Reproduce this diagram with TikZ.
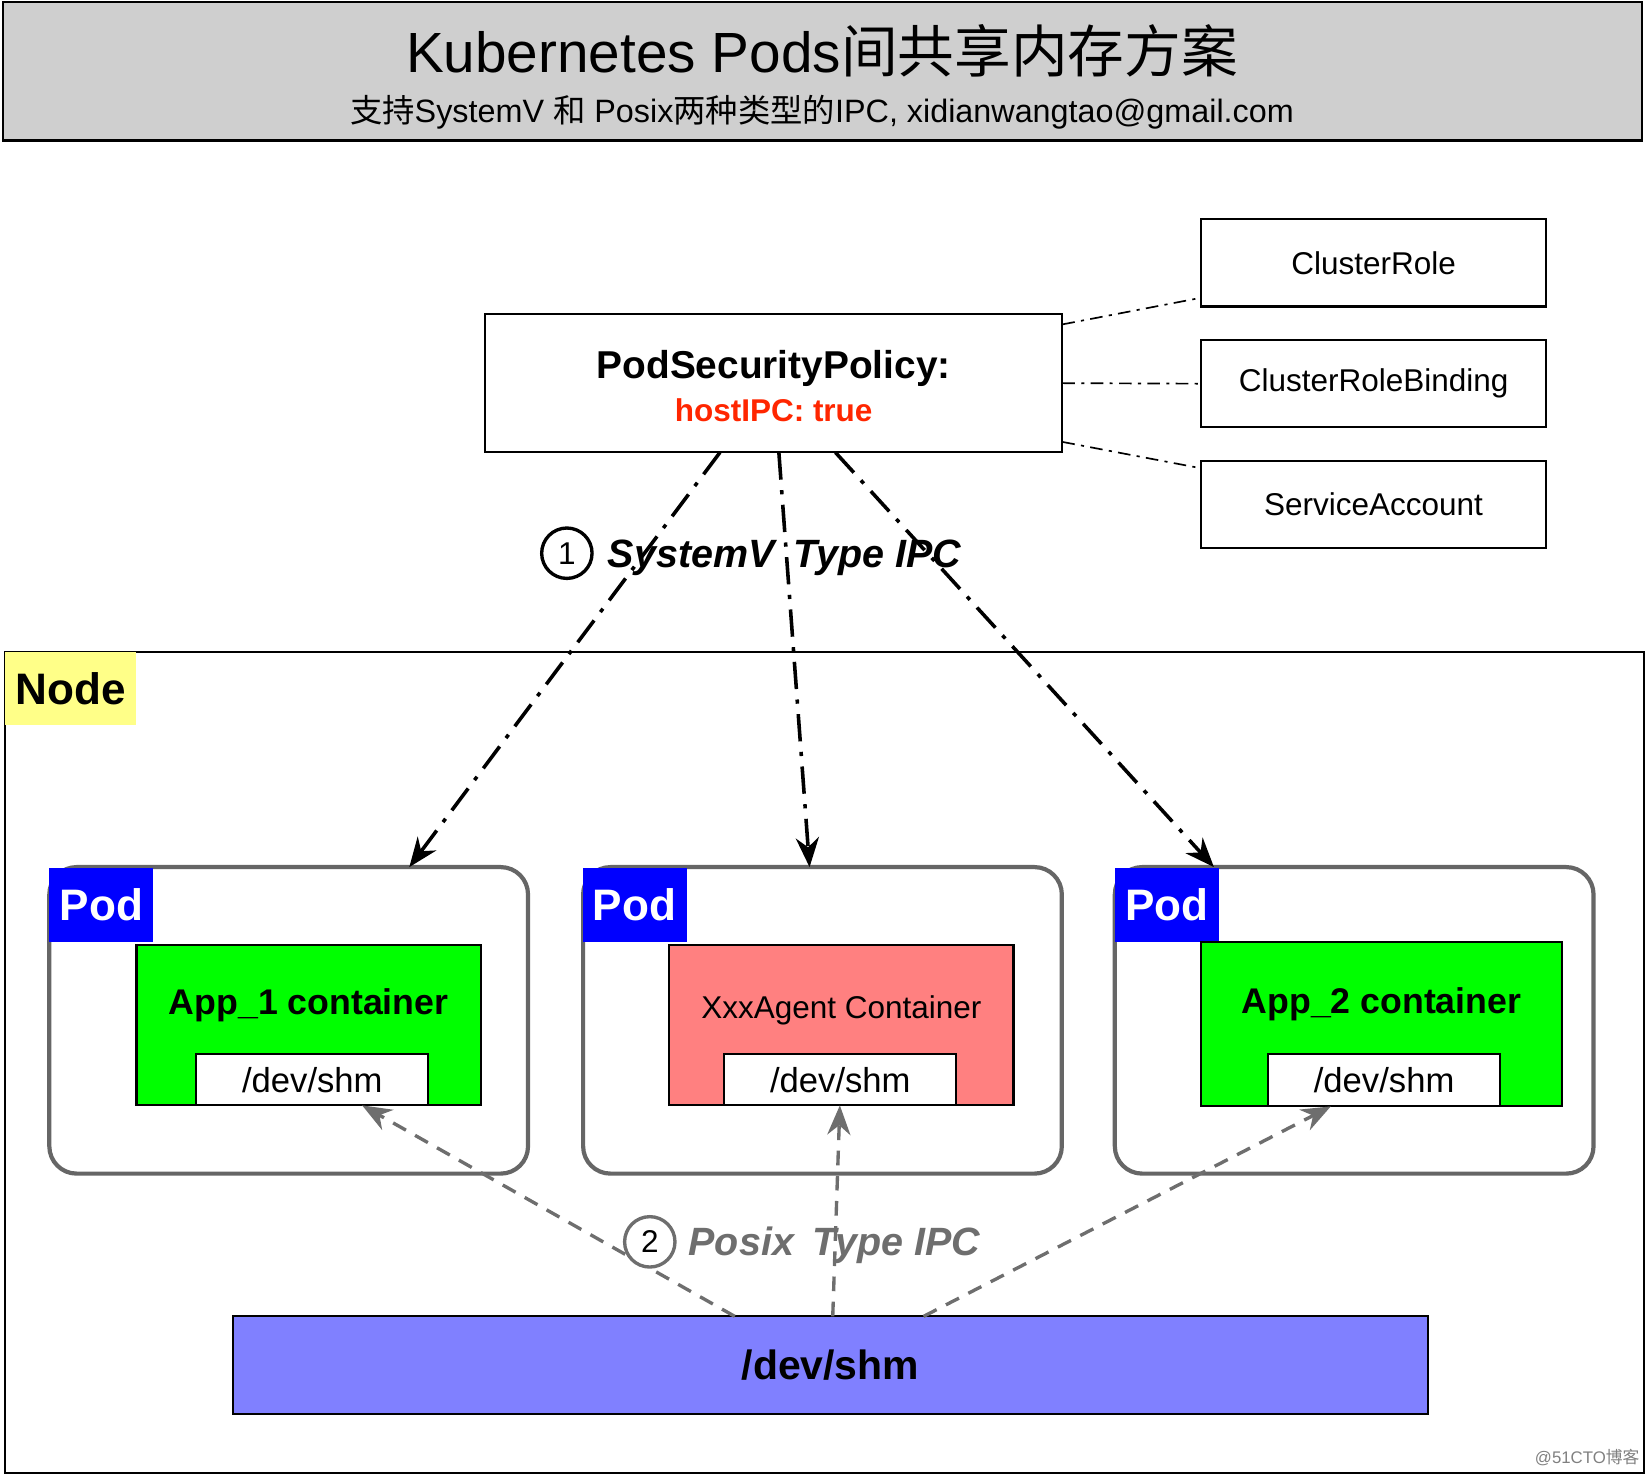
\documentclass[tikz,border=0pt]{standalone}
\usepackage{fontspec}
\setmainfont{Liberation Sans}
\newfontfamily\cjk{Noto Sans CJK SC}
\usetikzlibrary{arrows.meta,calc}
\definecolor{hdrgray}{RGB}{207,207,207}
\definecolor{podgray}{RGB}{102,102,102}
\definecolor{podblue}{RGB}{0,0,255}
\definecolor{appgreen}{RGB}{0,255,0}
\definecolor{agentred}{RGB}{255,128,128}
\definecolor{shmblue}{RGB}{128,128,255}
\definecolor{nodeyellow}{RGB}{255,255,136}
\definecolor{hostred}{RGB}{255,38,0}
\definecolor{posixgray}{RGB}{110,110,110}
\newcommand{\fsz}[1]{\fontsize{#1}{#1}\selectfont}
\begin{document}
\begin{tikzpicture}[x=0.5pt,y=-0.5pt,
  box/.style={draw,line width=1pt,inner sep=0pt,outer sep=0pt},
  txt/.style={inner sep=0pt,outer sep=0pt},
  rolebox/.style={box,minimum width=164.5pt,minimum height=41.5pt,font=\fsz{15}},
  podbox/.style={draw=podgray,line width=2pt,rounded corners=13pt,fill=white,minimum width=228pt,minimum height=146pt,inner sep=0pt,outer sep=0pt},
  podlbl/.style={fill=podblue,text=white,font=\fsz{21}\bfseries,minimum width=49.5pt,minimum height=35pt,inner sep=0pt,outer sep=0pt},
  ctr/.style={box,minimum width=164pt,minimum height=76.5pt},
  shmbox/.style={box,fill=white,minimum width=110.5pt,minimum height=24.5pt,font=\fsz{16.5}},
  thinlink/.style={line width=0.8pt,dash pattern=on 6pt off 3pt on 1.5pt off 3pt},
  sysarrow/.style={line width=1.7pt,dash pattern=on 13pt off 5pt on 2pt off 5pt,-{Stealth[length=14pt,width=11pt]}},
  posixarrow/.style={draw=posixgray,line width=1.6pt,dash pattern=on 7pt off 5pt,-{Stealth[length=14pt,width=11pt]}},
  numcirc/.style={circle,line width=1.6pt,minimum size=24pt,inner sep=0pt,font=\fsz{15}}
]
\useasboundingbox (0,0) rectangle (1568,1406);

% header
\node[box,fill=hdrgray,line width=1.2pt,minimum width=780.5pt,minimum height=66pt] (hdr) at (783.5,68) {};
\node[txt] (title) at (783,48) {\fsz{27}Kubernetes Pods{\cjk 间共享内存方案}};
\node[txt] (sub) at (783,107) {\fsz{15.4}{\cjk 支持}SystemV {\cjk 和} Posix{\cjk 两种类型的}IPC, xidianwangtao@gmail.com};

% policy
\node[box,minimum width=275pt,minimum height=66pt] (psp) at (737,365) {};
\node[txt,font=\fsz{18.5}\bfseries] (psptitle) at (737,351) {PodSecurityPolicy:};
\node[txt,font=\fsz{15}\bfseries,text=hostred] (hostipc) at (737,391) {hostIPC: true};

\node[rolebox] (cr) at (1308.5,250.5) {ClusterRole};
\node[rolebox] (crb) at (1308.5,365.5) {ClusterRoleBinding};
\node[rolebox] (sa) at (1308.5,480.5) {ServiceAccount};

\draw[thinlink] ($(psp.north east)!0.076!(psp.south east)$) -- ($(cr.north west)!0.9!(cr.south west)$);
\draw[thinlink] (psp.east) -- (crb.west);
\draw[thinlink] ($(psp.north east)!0.924!(psp.south east)$) -- ($(sa.north west)!0.085!(sa.south west)$);

% node frame
\node[box,line width=0.8pt,minimum width=780.5pt,minimum height=391pt] (nodebox) at (785.5,1012) {};
\node[txt,fill=nodeyellow,minimum width=62.5pt,minimum height=35pt,font=\fsz{21}\bfseries] (nodelbl) at (67.5,656) {Node};

% pods
\node[podbox] (pod1) at (275,972) {};
\node[podbox] (pod2) at (783.5,972) {};
\node[podbox] (pod3) at (1290,972) {};
\node[podlbl] (pl1) at (96.5,862) {Pod};
\node[podlbl] (pl2) at (604.5,862) {Pod};
\node[podlbl] (pl3) at (1111.5,862) {Pod};

\node[ctr,fill=appgreen] (app1) at (294,976.5) {};
\node[txt,font=\fsz{17}\bfseries] (app1t) at (294,958) {App\_1 container};
\node[shmbox] (shm1) at (297.5,1028.5) {/dev/shm};

\node[ctr,fill=agentred] (agent) at (801.5,976.5) {};
\node[txt,font=\fsz{15}] (agentt) at (801.5,962) {XxxAgent Container};
\node[shmbox] (shm2) at (800.5,1028.5) {/dev/shm};

\node[box,fill=appgreen,minimum width=172pt,minimum height=78.5pt] (app2) at (1316,975.5) {};
\node[txt,font=\fsz{17}\bfseries] (app2t) at (1316,957) {App\_2 container};
\node[shmbox,minimum height=25pt] (shm3) at (1318.5,1029) {/dev/shm};

% host shm
\node[box,fill=shmblue,minimum width=569pt,minimum height=46.5pt,font=\fsz{19.5}\bfseries] (hostshm) at (791,1300.5) {/dev/shm};

% systemV arrows
\draw[sysarrow] ($(psp.south west)!0.407!(psp.south east)$) -- ($(pod1.north west)!0.752!(pod1.north east)$);
\draw[sysarrow] ($(psp.south west)!0.509!(psp.south east)$) -- ($(pod2.north west)!0.473!(pod2.north east)$);
\draw[sysarrow] ($(psp.south west)!0.607!(psp.south east)$) -- ($(pod3.north west)!0.207!(pod3.north east)$);

\node[numcirc,draw] (c1) at (540,527) {1};
\node[txt,anchor=west,font=\fsz{18.8}\bfseries\itshape] (sysv) at (579,531) {SystemV\hspace{9pt}Type IPC};

% posix arrows
\draw[posixarrow] ($(hostshm.north west)!0.42!(hostshm.north east)$) -- ($(shm1.south west)!0.715!(shm1.south east)$);
\draw[posixarrow] ($(hostshm.north west)!0.502!(hostshm.north east)$) -- ($(shm2.south west)!0.498!(shm2.south east)$);
\draw[posixarrow] ($(hostshm.north west)!0.578!(hostshm.north east)$) -- ($(shm3.south west)!0.27!(shm3.south east)$);

\node[numcirc,draw=posixgray,fill=white] (c2) at (619,1183) {2};
\node[txt,anchor=west,text=posixgray,font=\fsz{18.8}\bfseries\itshape] (posix) at (656,1186) {Posix\hspace{9pt}Type IPC};

\node[txt,text=gray,font=\fsz{8}] (wm) at (1512,1388) {@51CTO{\cjk 博客}};
\end{tikzpicture}
\end{document}
